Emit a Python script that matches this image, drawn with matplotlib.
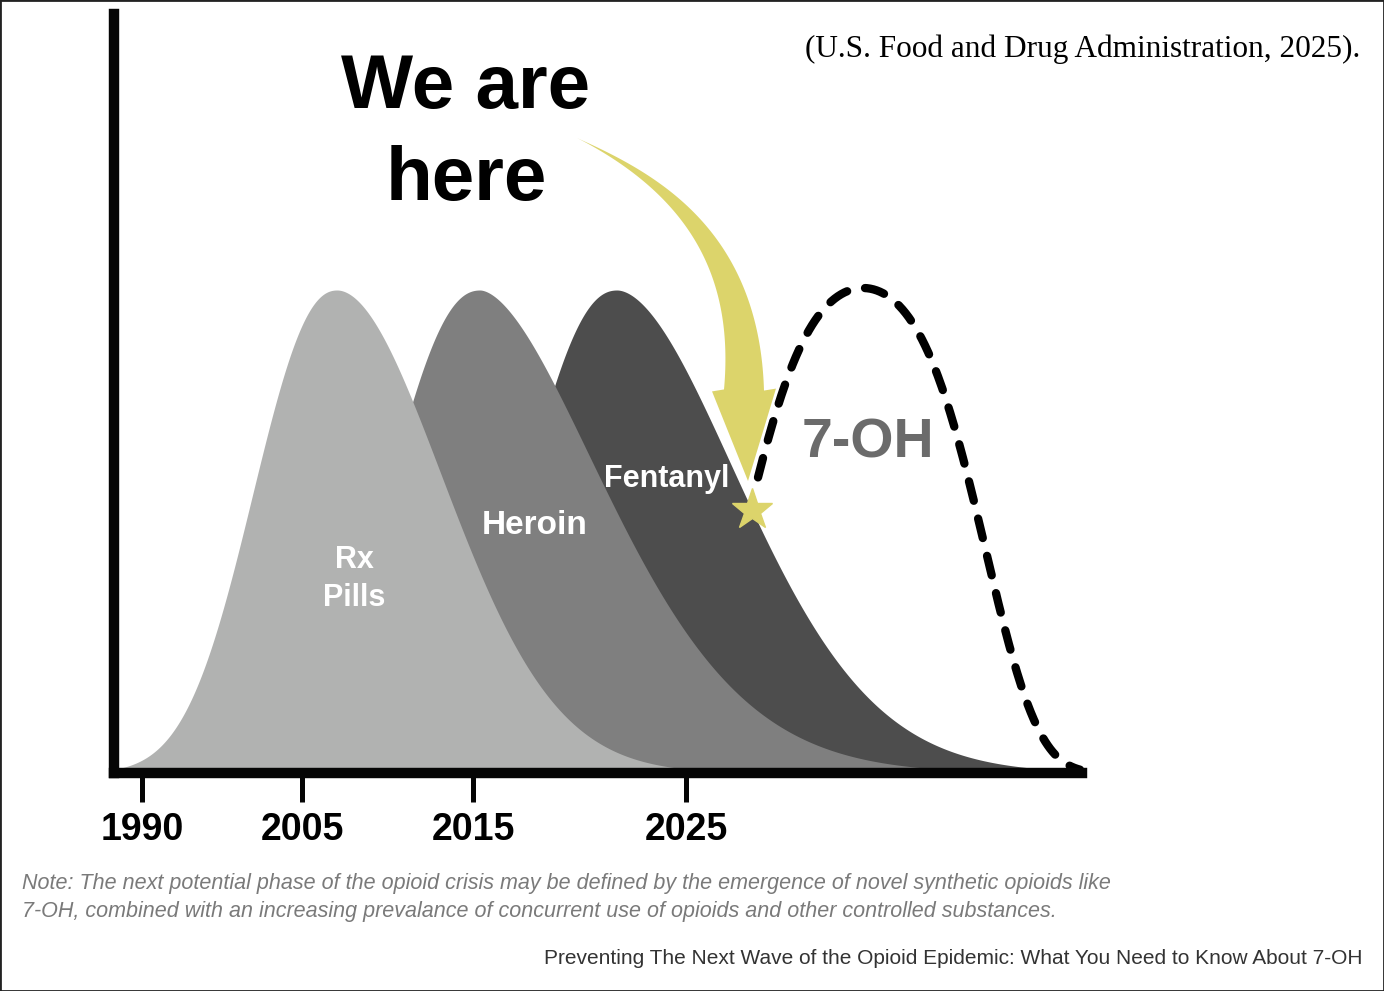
import matplotlib.pyplot as plt
import numpy as np
from matplotlib.patches import Polygon, Rectangle

plt.rcParams['font.family'] = ['Liberation Sans', 'DejaVu Sans']

W, H = 1384, 991
BASE = 773  # pixel row of the x axis

# the three past waves (units are pixels of the original picture)
wave_names = ['Rx\nPills', 'Heroin', 'Fentanyl']
wave_peak_x = [337, 480, 617]
wave_peak_h = [483, 483, 483]
wave_left_w = [110, 122, 122]
wave_left_p = [2.25, 2.25, 2.25]
wave_right_w = [153, 182, 178]
wave_right_p = [1.9, 1.7, 1.8]
wave_colors = ['#b1b2b1', '#7f7f7f', '#4d4d4d']

# the next (projected) wave
next_name = '7-OH'
next_peak_x = 863
next_peak_h = 485
next_w2 = 195   # quadratic width
next_w4 = 156   # quartic width
next_start, next_end = 758, 1080

# "we are here" point, sits on the fentanyl curve
here_x = 752

tick_pos = [142, 302, 473, 686]
tick_labels = ['1990', '2005', '2015', '2025']

yellow = '#dcd46b'


def wave(x, c, h, wl, pl, wr, pr):
    d = x - c
    w = np.where(d < 0, wl, wr)
    p = np.where(d < 0, pl, pr)
    return h * np.exp(-(np.abs(d) / w) ** p)


fig = plt.figure(figsize=(W / 100, H / 100), dpi=100)
ax = fig.add_axes([114 / W, (H - BASE) / H, 968 / W, 759 / H])
ax.set_xlim(114, 1082)
ax.set_ylim(0, 759)

x = np.linspace(114, 1082, 2000)
# back to front: fentanyl, heroin, rx
for i in [2, 1, 0]:
    y = wave(x, wave_peak_x[i], wave_peak_h[i], wave_left_w[i], wave_left_p[i],
             wave_right_w[i], wave_right_p[i])
    ax.fill_between(x, 0, y, color=wave_colors[i], lw=0, zorder=1 + (2 - i))

# dashed 7-OH wave
xn = np.linspace(next_start, next_end, 400)
dn = xn - next_peak_x
yn = next_peak_h * np.exp(-(dn / next_w2) ** 2 - (dn / next_w4) ** 4)
ax.plot(xn, yn, color='black', lw=6, linestyle=(0, (2.4, 2.2)),
        dash_capstyle='round', zorder=4, clip_on=False)

# curved arrow (cubic bezier shaft + head), in picture pixels
t = np.linspace(0, 1, 100)[:, None]
P0 = np.array([577, 138.0])
P1 = np.array([665, 180.0])
P2 = np.array([748, 245.0])
P3 = np.array([744, 390.0])
tip = np.array([748, 481.0])
B = ((1 - t) ** 3 * P0 + 3 * (1 - t) ** 2 * t * P1
     + 3 * (1 - t) * t ** 2 * P2 + t ** 3 * P3)
dB = (3 * (1 - t) ** 2 * (P1 - P0) + 6 * (1 - t) * t * (P2 - P1)
      + 3 * t ** 2 * (P3 - P2))
n = np.column_stack([-dB[:, 1], dB[:, 0]])
n = n / np.linalg.norm(n, axis=1)[:, None]
hw = 20 * t ** 1.3
side_a = B + n * hw
side_b = B - n * hw
ax_dir = (tip - P3) / np.linalg.norm(tip - P3)
n_head = np.array([-ax_dir[1], ax_dir[0]])
if np.dot(n_head, n[-1]) < 0:
    n_head = -n_head
head = [P3 + n_head * 32, tip, P3 - n_head * 32]
pts = np.vstack([side_a, head, side_b[::-1]])
pts = np.column_stack([pts[:, 0], BASE - pts[:, 1]])
ax.add_patch(Polygon(pts, closed=True, facecolor='white', edgecolor='white',
                     lw=3, joinstyle='miter', zorder=5))
ax.add_patch(Polygon(pts, closed=True, facecolor=yellow, edgecolor='none',
                     zorder=5.1))

# star
here_y = wave(np.array([here_x]), wave_peak_x[2], wave_peak_h[2], wave_left_w[2],
              wave_left_p[2], wave_right_w[2], wave_right_p[2])
ax.plot(here_x, here_y, marker='*', ms=31, color=yellow, mec=yellow, zorder=6)

# labels
ax.text(354, BASE - 579, wave_names[0], ha='center', va='center', color='white',
        fontsize=22, weight='bold', linespacing=1.38, zorder=7)
ax.text(535, BASE - 526, wave_names[1], ha='center', va='center', color='white',
        fontsize=24, weight='bold', zorder=7)
ax.text(667, BASE - 479, wave_names[2], ha='center', va='center', color='white',
        fontsize=22, weight='bold', zorder=7)
ax.text(868, BASE - 443, next_name, ha='center', va='center', color='#6b6b6b',
        fontsize=40, weight='bold', zorder=7)
ax.text(466, BASE - 108, 'We are', ha='center', va='baseline', fontsize=55,
        weight='bold', color='black')
ax.text(466, BASE - 200, 'here', ha='center', va='baseline', fontsize=55,
        weight='bold', color='black')

# axes styling
for s in ['top', 'right']:
    ax.spines[s].set_visible(False)
for s in ['left', 'bottom']:
    ax.spines[s].set_linewidth(7.5)
    ax.spines[s].set_color('#050505')
    ax.spines[s].set_capstyle('projecting')
    ax.spines[s].set_zorder(8)
ax.set_yticks([])
ax.set_xticks(tick_pos)
ax.set_xticklabels(tick_labels, fontsize=27, weight='bold')
ax.tick_params(axis='x', length=21, width=3.6, pad=7, color='#050505')
ax.set_facecolor('none')

# surrounding texts
fig.text(1360 / W, 1 - 49 / H, '(U.S. Food and Drug Administration, 2025).',
         family='Liberation Serif', fontsize=22.5, ha='right', va='center')
fig.text(22 / W, 1 - 884 / H,
         'Note: The next potential phase of the opioid crisis may be defined by the '
         'emergence of novel synthetic opioids like',
         ha='left', va='center', style='italic', color='#7a7a7a', fontsize=15.5)
fig.text(22 / W, 1 - 911 / H,
         '7-OH, combined with an increasing prevalance of concurrent use of opioids '
         'and other controlled substances.',
         ha='left', va='center', style='italic', color='#7a7a7a', fontsize=15.5)
fig.text(1363 / W, 1 - 958 / H,
         'Preventing The Next Wave of the Opioid Epidemic: What You Need to Know About 7-OH',
         ha='right', va='center', color='#333333', fontsize=15)

fig.add_artist(Rectangle((0, 0), 1, 1, transform=fig.transFigure, fill=False,
                         ec='#222222', lw=2))

fig.savefig('out.png', dpi=100)
